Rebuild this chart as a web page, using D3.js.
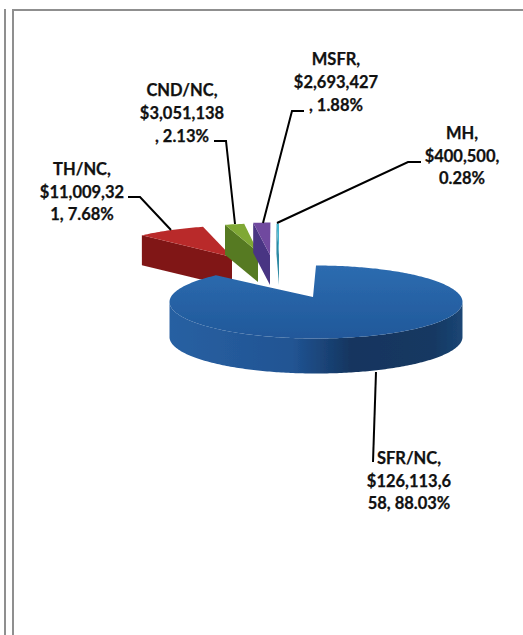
<!DOCTYPE html>
<html><head><meta charset="utf-8">
<script src="https://cdn.jsdelivr.net/npm/d3@7/dist/d3.min.js"></script>
<style>html,body{margin:0;padding:0;background:#fff}svg{display:block}</style>
</head><body><div id="c"></div>
<script>
const categories = ["SFR/NC","TH/NC","CND/NC","MSFR","MH"];
const amounts = [126113658,11009321,3051138,2693427,400500];
const labelLines = [
  ["SFR/NC,","$126,113,6","58, 88.03%"],
  ["TH/NC,","$11,009,32","1, 7.68%"],
  ["CND/NC,","$3,051,138",", 2.13%"],
  ["MSFR,","$2,693,427",", 1.88%"],
  ["MH,","$400,500,","0.28%"]
];
const topColors = ["#2c68ad","#b92a2a","#7fa835","#6f4a9f","#45b3cc"];
const wallColors = ["#1f4d85","#801717","#567a20","#4a3583","#2f8aa3"];

const W=523,H=635;
const rx=146.5, ry=36.5;
const depths=[35,30,30,30,30];
const centers=[[316,302],[242,262],[264,260],[273,259],[279,260]];
const apexes=[[313,297],[232,257],[258,252],[270,255],[279,255]];
const labelPos=[[409,464],[82,175],[182,96],[336,65],[462,139]];
const lineH=[22.5,22.5,23,23,22.5];
const leaders=[
  [[376,372],[373,462]],
  [[128,197],[140,197],[171,230]],
  [[214,141],[226,141],[235,224]],
  [[304,111],[292,111],[263,223]],
  [[421,162],[408,162],[277,223]]
];

const svg=d3.select("#c").append("svg").attr("width",W).attr("height",H);
const defs=svg.append("defs");
defs.append("filter").attr("id","soft").attr("x","-5%").attr("y","-5%").attr("width","110%").attr("height","110%")
  .append("feGaussianBlur").attr("stdDeviation",0.7);
const g1=defs.append("linearGradient").attr("id","blueWall");
[[0,"#2860a2"],[0.42,"#215493"],[0.62,"#14355f"],[0.9,"#153862"],[1,"#1b4675"]]
 .forEach(d=>g1.append("stop").attr("offset",d[0]).attr("stop-color",d[1]));
const g2=defs.append("linearGradient").attr("id","blueTop").attr("x1",0).attr("x2",0).attr("y1",0).attr("y2",1);
[[0,"#2d6cb0"],[1,"#20589a"]].forEach(d=>g2.append("stop").attr("offset",d[0]).attr("stop-color",d[1]));

// frame
const frame=svg.append("g").attr("stroke","#8f8f8f").attr("stroke-width",2).attr("fill","none");
frame.append("line").attr("x1",5).attr("x2",5).attr("y1",9).attr("y2",H);
frame.append("line").attr("x1",13).attr("x2",13).attr("y1",9).attr("y2",H);
frame.append("line").attr("x1",12).attr("x2",W).attr("y1",10).attr("y2",10);

const arcs=d3.pie().sort(null).value(d=>d).startAngle(0).endAngle(2*Math.PI)(amounts);
const pt=(c,a)=>[c[0]+rx*Math.sin(a),c[1]-ry*Math.cos(a)];
const line=d3.line();
const pie=svg.append("g").attr("filter","url(#soft)");
const order=[1,2,3,4,0];
order.forEach(i=>{
  const a=arcs[i],c=centers[i],ap=apexes[i],d=depths[i];
  const n=Math.max(4,Math.round((a.endAngle-a.startAngle)*60));
  const samples=d3.range(n+1).map(k=>a.startAngle+(a.endAngle-a.startAngle)*k/n);
  if(i===0){
    const f=samples.filter(t=>t>=Math.PI/2&&t<=a.endAngle&&t<=3*Math.PI/2);
    const pts=f.map(t=>pt(c,t));
    const wall=pts.slice().reverse().concat(pts.map(p=>[p[0],p[1]+d]));
    pie.append("path").attr("d",line(wall)+"Z").attr("fill","url(#blueWall)");
  } else {
    const s=pt(c,a.startAngle);
    pie.append("path").attr("d",line([s,ap,[ap[0],ap[1]+d],[s[0],s[1]+d]])+"Z").attr("fill",wallColors[i]);
  }
  const top=samples.map(t=>pt(c,t)); top.push(ap);
  pie.append("path").attr("d",line(top)+"Z").attr("fill",i===0?"url(#blueTop)":topColors[i]);
});

const lg=svg.append("g").attr("fill","none").attr("stroke","#000").attr("stroke-width",2);
leaders.forEach(l=>lg.append("path").attr("d",line(l)));

const tg=svg.append("g").attr("font-family","Lato, 'Open Sans', sans-serif").attr("font-weight",700)
  .attr("font-size",16.5).attr("text-anchor","middle").attr("fill","#111")
  .attr("stroke","#111").attr("stroke-width",0.25);
labelLines.forEach((ls,i)=>ls.forEach((t,j)=>{
  tg.append("text").attr("x",labelPos[i][0]).attr("y",labelPos[i][1]+j*lineH[i]).text(t);
}));
</script></body></html>
